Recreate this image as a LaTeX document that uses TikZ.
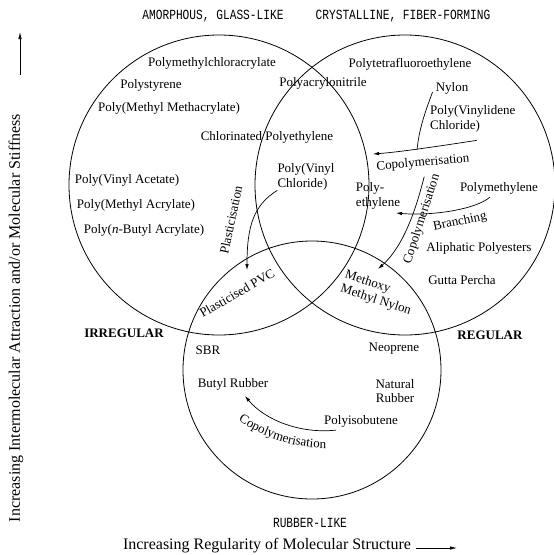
\documentclass[tikz,border=0pt]{standalone}
\usepackage{fontspec}
\setmainfont{Liberation Serif}
\newfontfamily\capsfont[FakeStretch=0.8]{Liberation Mono}
\usepackage{tikz}
\usetikzlibrary{arrows.meta}
\usetikzlibrary{decorations.text}
\tikzstyle{ring} = [draw, circle, minimum size=300pt, inner sep=0pt, line width=0.8pt]
\tikzstyle{poly} = [inner sep=0pt, font=\fontsize{13}{14.5}\selectfont]
\tikzstyle{klass} = [inner sep=0pt, font=\capsfont\fontsize{14}{16}\selectfont]
\tikzstyle{side} = [inner sep=0pt, font=\bfseries\fontsize{13}{15}\selectfont]
\tikzstyle{axis} = [inner sep=0pt, font=\fontsize{16}{18}\selectfont]
\tikzstyle{line} = [draw, -{Latex[length=6pt,width=3.5pt]}, line width=0.7pt]

\begin{document}
\begin{tikzpicture}[x=1pt,y=-1pt]
\useasboundingbox (0,0) rectangle (554,555);
% Place circles
	\node [ring] (amorph) at (219,185) {};
	\node [ring] (cryst)  at (405,185) {};
	\node [ring, minimum size=258pt] (rubber) at (312,370) {};

% Place class labels
	\node [klass] (glass) at (213,16) {AMORPHOUS, GLASS-LIKE};
	\node [klass] (fiber) at (403,16) {CRYSTALLINE, FIBER-FORMING};
	\node [klass] (rubl)  at (310,523) {RUBBER-LIKE};
	\node [side] (irreg) at (124,333) {IRREGULAR};
	\node [side] (reg)   at (490,335) {REGULAR};

% Place polymers
	\node [poly] (pmca) at (212,63)  {Polymethylchloracrylate};
	\node [poly] (ps)   at (151,85)  {Polystyrene};
	\node [poly] (pmma) at (169,108) {Poly(Methyl Methacrylate)};
	\node [poly] (pan)  at (323,83)  {Polyacrylonitrile};
	\node [poly] (cpe)  at (267,137) {Chlorinated Polyethylene};
	\node [poly] (pva)  at (127,180) {Poly(Vinyl Acetate)};
	\node [poly] (pma)  at (136,205) {Poly(Methyl Acrylate)};
	\node [poly] (pba)  at (144,230) {Poly(\textit{n}-Butyl Acrylate)};
	\node [poly, align=left] (pvc) at (306,177) {Poly(Vinyl\\Chloride)};
	\node [poly] (ptfe) at (410,64)  {Polytetrafluoroethylene};
	\node [poly] (nylon) at (452,88) {Nylon};
	\node [poly, align=left, anchor=west] (pvdc) at (430,119) {Poly(Vinylidene\\Chloride)};
	\node [poly, align=left] (pe) at (378,196) {Poly-\\ethylene};
	\node [poly] (pm)   at (499,188) {Polymethylene};
	\node [poly] (ape)  at (479,248) {Aliphatic Polyesters};
	\node [poly] (gp)   at (462,280) {Gutta Percha};
	\node [poly, align=left, rotate=-18] (mmn) at (378,293) {Methoxy\\Methyl Nylon};
	\node [poly, rotate=30] (ppvc) at (237,293) {Plasticised PVC};
	\node [poly] (sbr)  at (208,350) {SBR};
	\node [poly] (neo)  at (394,349) {Neoprene};
	\node [poly] (br)   at (233,384) {Butyl Rubber};
	\node [poly, align=center] (nr) at (395,391) {Natural\\Rubber};
	\node [poly] (pib)  at (361,421) {Polyisobutene};

% Free ends
	\coordinate (plTip) at (247,270);
	\coordinate (cpTip) at (373,154);
	\coordinate (cpJoin) at (417,150);
	\coordinate (mmTip) at (378,269);
	\coordinate (brTip) at (396,213);
	\coordinate (ibTip) at (245,396);

% Draw edges
	\path [line] (pvc.south west) .. controls (254,205) and (247,225) .. (plTip);
	\path [line] (pvdc.south) ++(4,8) .. controls (440,146) and (400,152) .. (cpTip);
	\draw [line width=0.7pt] (nylon.west) ++(-3,4) .. controls (424,115) and (419,130) .. (cpJoin);
	\path [line] (pe.north east) ++(24,-6) .. controls (417,205) and (405,245) .. (mmTip);
	\path [line] (pm.south) ++(-9,3) .. controls (475,210) and (430,216) .. (brTip);
	\path [line] (pib.south west) ++(12,3) .. controls (300,434) and (265,420) .. (ibTip);

% Edge labels
	\node [poly, rotate=78] (plast) at (231,220) {Plasticisation};
	\node [poly, rotate=5]  (copA)  at (423,163) {Copolymerisation};
	\node [poly, rotate=72] (copB)  at (422,219) {Copolymerisation};
	\node [poly, rotate=12] (branch) at (460,222) {Branching};
	\path [decorate, decoration={text along path, text align=center,
		text={|\fontsize{13}{14.5}\selectfont|Copolymerisation}}]
		(232,416) .. controls (260,437) and (296,450) .. (334,448);

% Axes
	\node [axis, rotate=90] (yax) at (16,318) {Increasing Intermolecular Attraction and/or Molecular Stiffness};
	\coordinate (yTip) at (20,32);
	\draw [-{Latex[length=7pt,width=3.5pt]}, line width=0.7pt] (20,75) -- (yTip);
	\node [axis] (xax) at (267,546) {Increasing Regularity of Molecular Structure};
	\coordinate (xTip) at (457,548);
	\draw [-{Latex[length=7pt,width=3.5pt]}, line width=0.7pt] (xax.east) ++(5,2) -- (xTip);

\end{tikzpicture}
\end{document}
